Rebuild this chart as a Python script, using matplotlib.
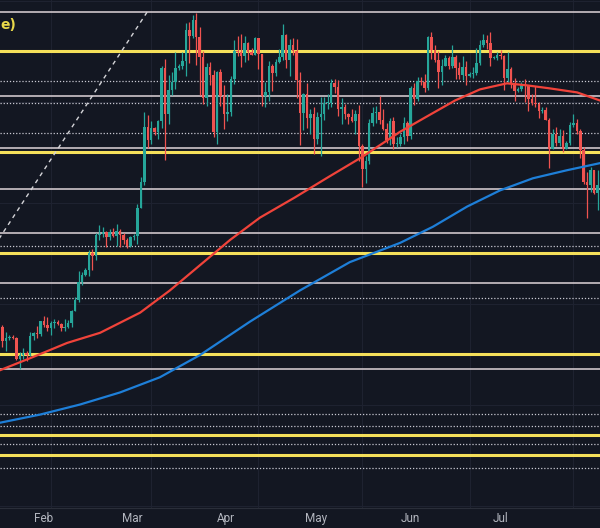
import numpy as np
import pandas as pd
import matplotlib
matplotlib.use("Agg")
import matplotlib.pyplot as plt

# Daily candles, 17 Jan -> 8 Jul (open of each day = previous close)
first_open = 43100
closes = [42700, 41300, 41600, 41700, 41600, 39500, 39900, 40100, 39900, 41800,
          42100, 42000, 43300, 42900, 42600,
          43100, 43200, 43000, 42600, 42700, 43100, 44300, 45300, 47100, 47800,
          48300, 50000, 49700, 51800, 51900, 52100, 51600, 52100, 51700, 52200,
          51800, 51300, 50700, 51600, 51700, 54500, 57000, 62500, 61200,
          62400, 62000, 63100, 68300, 63800, 66100, 66900, 68300, 68500, 69000,
          72100, 71500, 73100, 71400, 69400, 65300, 68400, 67600, 62000, 67900,
          65500, 63800, 64000, 67200, 70000, 69900, 69500, 70800, 69900, 69600, 71300,
          69700, 65500, 65900, 68500, 67800, 68900, 69400, 71600, 69100, 70600,
          70000, 67100, 63900, 65700, 63400, 63800, 61300, 63500, 63800, 64900,
          64900, 66800, 66400, 64300, 64500, 63800, 63500, 63100, 63800, 60600,
          58300, 59100, 62900, 63900, 64000, 63200, 62300, 61200, 63100, 60800,
          60800, 61500, 62900, 61600, 66300, 65200, 67000, 66900, 66300, 71400,
          70100, 69100, 67900, 68500, 69300, 68500, 69400, 68300, 67600, 68400, 67500,
          67700, 67800, 68800, 70600, 71100, 70800, 69300, 69300, 69600, 69500,
          67300, 68200, 66800, 66000, 66200, 66600, 66500, 65200, 64900, 64800,
          64100, 64200, 63200, 60300, 61800, 60900, 61600, 60300, 60900, 62700,
          62900, 62100, 60200, 57000, 56700, 58200, 55900, 56700]
highs = [43200, 42900, 42200, 41900, 41900, 41700, 40200, 40600, 40300, 42200,
         42200, 42800, 43300, 43800, 43700,
         43300, 43500, 43400, 43100, 43500, 43400, 44400, 45600, 48200, 48100,
         48500, 50300, 50400, 52000, 52800, 52600, 52200, 52400, 52500, 52900,
         52400, 52000, 51500, 51700, 51900, 54900, 57500, 64000, 63700,
         63100, 62500, 63200, 68500, 69200, 67600, 67900, 69900, 68700, 69900,
         72800, 72900, 73600, 73800, 72400, 70000, 68800, 68900, 68100, 68000,
         68200, 66600, 65700, 67500, 71100, 71500, 71700, 71500, 70900, 70300, 71400,
         71300, 69700, 66900, 69000, 68700, 69200, 70200, 72700, 71700, 71200,
         71300, 71200, 67900, 65800, 66800, 64300, 64500, 64000, 65400, 65400,
         65700, 67200, 67200, 67100, 65300, 64800, 63900, 64300, 64200, 64700,
         60800, 59600, 63300, 64500, 64600, 65500, 64300, 62900, 63400, 63500,
         61500, 61800, 63500, 63100, 66500, 66800, 67400, 67400, 67700, 71500,
         71900, 70600, 70000, 69200, 69600, 69500, 70600, 69600, 68900, 69500, 69000,
         67900, 68400, 70300, 71100, 71700, 71600, 71900, 69500, 69900, 70100,
         69600, 69900, 68400, 67300, 66400, 66900, 67200, 66500, 65700, 66500,
         65000, 64500, 64500, 63400, 62300, 62500, 62300, 62200, 61100, 63000,
         63800, 63300, 62300, 60500, 58000, 58500, 58200, 58200]
lows = [42200, 40700, 40300, 41400, 41500, 39400, 38500, 39500, 39300, 39800,
        41400, 41600, 41800, 42700, 42300,
        41900, 42600, 42900, 42300, 42300, 42600, 42700, 44300, 45200, 46800,
        47700, 47700, 48300, 49300, 51300, 51600, 50600, 51300, 51600, 50700,
        50600, 50900, 50500, 50600, 51300, 50900, 54500, 56700, 60400,
        60800, 61700, 61300, 62400, 59200, 62800, 65600, 66200, 68100, 68200,
        67500, 68800, 71300, 68600, 65600, 64800, 64600, 66600, 61500, 60800,
        64600, 62300, 63100, 63600, 66700, 69500, 68400, 68900, 69100, 69600, 69600,
        68200, 64600, 64500, 65100, 66000, 67500, 68800, 69100, 68300, 67500,
        69600, 65300, 60700, 62200, 62400, 61800, 59800, 60800, 59600, 63200,
        64300, 64500, 65800, 63600, 62800, 63300, 62800, 63000, 61800, 59100,
        56500, 56900, 58800, 62600, 62900, 62800, 62200, 60900, 60700, 60300,
        60500, 60600, 60800, 61100, 61300, 64700, 65100, 66600, 65900, 66100,
        69200, 68900, 66300, 66600, 68500, 68200, 68300, 67200, 67200, 67100, 66600,
        67400, 67300, 67600, 68600, 70400, 70200, 68500, 69200, 69100, 69200,
        66100, 66900, 66300, 65100, 65900, 66000, 65000, 64100, 64700, 64500,
        63400, 63900, 63200, 58400, 60300, 60600, 60600, 60000, 60300, 60700,
        62500, 61800, 59400, 56800, 53500, 56000, 55800, 54300]

# moving averages (bar position, value)
ma100_x = [0.3, 9.8, 19.7, 29.2, 40.8, 49.4, 58.1, 66.8, 75.4, 85.5, 95.1, 104.9,
           115.9, 124.6, 131.8, 139.0, 146.8, 152.6, 159.2, 167.1, 173.7]
ma100_y = [38400, 39700, 41100, 42100, 44100, 46300, 48800, 51300, 53500, 55500,
           57500, 59500, 62000, 63700, 65100, 66200, 66800, 66600, 66300, 65900, 65100]
ma200_x = [0.3, 11.8, 23.4, 35.0, 46.5, 58.1, 72.5, 87.0, 101.4, 115.9, 125.4,
           135.3, 144.8, 154.3, 164.2, 173.7]
ma200_y = [33200, 34000, 35000, 36200, 37700, 39900, 43200, 46300, 49100, 51000,
           52600, 54600, 56200, 57400, 58200, 58900]

# drawn levels
yellow_levels = [70000, 60000, 50000, 40000, 32000, 30000]
solid_levels = [73850, 65500, 60400, 56300, 52000, 47000, 38500]
dotted_levels = [67000, 64900, 61900, 50700, 45500, 34100, 32900, 31100, 28700]
trend_x = [-8.4, 42.8]
trend_y = [47000, 73850]

month_labels = ["Feb", "Mar", "Apr", "May", "Jun", "Jul"]
label_pos = [13.0, 38.4, 65.6, 91.6, 118.8, 145.1]
month_start = [15, 44, 75, 105, 136, 166]

bg = "#131722"
up_col = "#26a69a"
down_col = "#ef5350"

closes = np.array(closes)
opens = np.concatenate([[first_open], closes[:-1]])
highs = np.array(highs)
lows = np.array(lows)
x = np.arange(len(closes))

fig = plt.figure(figsize=(6, 5.28), dpi=100, facecolor=bg)
ax = fig.add_axes([0, 20 / 528, 1, 508 / 528])
ax.set_facecolor(bg)

# faint grid
for p in range(25000, 76000, 5000):
    ax.axhline(p, color="#1e2230", lw=0.8, zorder=0)
for m in month_start:
    ax.axvline(m, color="#1e2230", lw=0.8, zorder=0)

for p in yellow_levels:
    ax.axhline(p, color="#f5e05a", lw=2.2, zorder=1)
for p in solid_levels:
    ax.axhline(p, color="#cfc6cb", lw=1.2, zorder=1)
for p in dotted_levels:
    ax.axhline(p, color="#c9c9d2", lw=0.9, ls=(0, (1, 1.5)), zorder=1)

ax.plot(trend_x, trend_y, color="#d4d4d8", lw=1, ls=(0, (3, 3)), zorder=2)

up = closes >= opens
cols = np.where(up, up_col, down_col)
ax.vlines(x, lows, highs, colors=cols, lw=0.9, zorder=3)
body_h = np.maximum(np.abs(closes - opens), 80)
ax.bar(x, body_h, bottom=np.minimum(opens, closes), width=0.72,
       color=cols, linewidth=0, zorder=4)

ax.plot(ma100_x, ma100_y, color="#f0433a", lw=1.6, zorder=5)
ax.plot(ma200_x, ma200_y, color="#1e7fd8", lw=1.6, zorder=5)

ax.text(0.0, 0.95, "e)", transform=ax.transAxes, color="#e8d84a",
        fontsize=10, fontweight="bold", ha="left", va="center")

ax.set_xlim(0.29, 173.7)
ax.set_ylim(24757, 75050)
ax.set_yticks([])
ax.set_xticks(label_pos)
ax.set_xticklabels(month_labels, color="#b2b5be", fontsize=8.5, family="Roboto")
ax.tick_params(axis="x", length=0, pad=3)
for s in ["top", "left", "right"]:
    ax.spines[s].set_visible(False)
ax.spines["bottom"].set_color("#2a2e39")

fig.savefig("out.png", dpi=100, facecolor=bg)
